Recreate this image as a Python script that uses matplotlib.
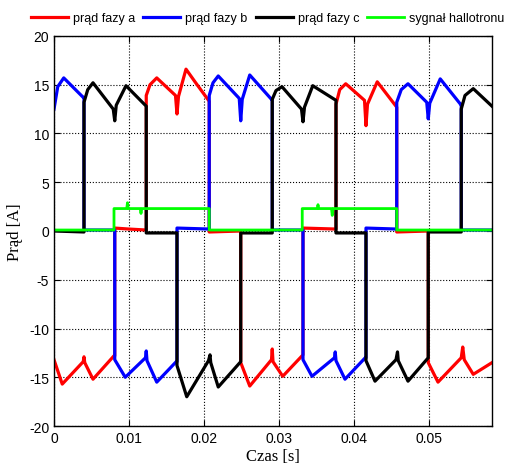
import matplotlib
matplotlib.use('Agg')
import matplotlib.pyplot as plt

# phase currents (time in s, current in A)
t_a = [0.0000, 0.0011, 0.0039, 0.0040, 0.0041, 0.0052, 0.0080, 0.0081, 0.0081, 0.0100,
       0.0123, 0.0123, 0.0128, 0.0137, 0.0162, 0.0164, 0.0166, 0.0176, 0.0188, 0.0207,
       0.0207, 0.0249, 0.0249, 0.0261, 0.0290, 0.0291, 0.0292, 0.0305, 0.0332, 0.0332,
       0.0376, 0.0376, 0.0381, 0.0389, 0.0414, 0.0416, 0.0418, 0.0431, 0.0457, 0.0457,
       0.0499, 0.0499, 0.0512, 0.0543, 0.0545, 0.0547, 0.0559, 0.0584]
i_a = [-13.2, -15.7, -13.4, -12.9, -13.5, -15.2, -12.8, -12.8, 0.3, 0.2,
       0.1, 13.9, 15.0, 15.7, 13.9, 12.0, 13.8, 16.6, 15.3, 13.3,
       -0.1, 0.0, -13.5, -15.9, -13.2, -12.1, -13.4, -14.9, -12.7, 0.3,
       0.2, 13.0, 14.5, 15.1, 13.4, 10.8, 13.0, 15.3, 12.7, -0.1,
       0.0, -13.5, -15.5, -13.0, -11.9, -13.2, -14.7, -13.5]

t_b = [0.0000, 0.0005, 0.0013, 0.0039, 0.0040, 0.0040, 0.0081, 0.0081, 0.0095, 0.0122,
       0.0123, 0.0124, 0.0137, 0.0163, 0.0164, 0.0164, 0.0207, 0.0207, 0.0212, 0.0219,
       0.0247, 0.0249, 0.0251, 0.0261, 0.0290, 0.0291, 0.0291, 0.0332, 0.0332, 0.0344,
       0.0374, 0.0375, 0.0376, 0.0388, 0.0415, 0.0416, 0.0416, 0.0457, 0.0457, 0.0463,
       0.0472, 0.0497, 0.0499, 0.0501, 0.0515, 0.0542, 0.0543, 0.0543, 0.0584]
i_b = [12.5, 14.8, 15.7, 13.7, 13.7, 0.1, 0.1, -13.2, -15.0, -13.0,
       -12.3, -13.3, -15.5, -13.4, -13.4, 0.3, 0.2, 13.9, 15.2, 15.9,
       13.6, 11.3, 13.5, 16.0, 13.5, 13.5, 0.1, 0.1, -13.2, -14.9,
       -13.0, -12.4, -13.3, -15.2, -13.0, -13.0, 0.3, 0.2, 13.2, 14.5,
       15.1, 13.2, 11.5, 13.1, 15.6, 13.0, 13.0, 0.1, 0.1]

t_c = [0.0000, 0.0040, 0.0040, 0.0045, 0.0052, 0.0079, 0.0081, 0.0083, 0.0096, 0.0123,
       0.0123, 0.0164, 0.0164, 0.0177, 0.0206, 0.0208, 0.0209, 0.0219, 0.0249, 0.0249,
       0.0291, 0.0291, 0.0296, 0.0304, 0.0330, 0.0332, 0.0334, 0.0345, 0.0376, 0.0376,
       0.0416, 0.0416, 0.0428, 0.0456, 0.0458, 0.0459, 0.0472, 0.0499, 0.0499, 0.0543,
       0.0543, 0.0548, 0.0559, 0.0584]
i_c = [0.0, -0.1, 13.2, 14.5, 15.2, 12.5, 11.3, 12.9, 14.9, 12.8,
       -0.2, -0.2, -13.8, -17.0, -13.3, -12.7, -13.5, -16.0, -13.4, -0.2,
       -0.2, 13.5, 14.4, 14.8, 12.5, 11.2, 12.7, 14.9, 13.4, -0.2,
       -0.2, -13.3, -15.4, -13.2, -12.4, -13.3, -15.4, -13.0, -0.1, -0.1,
       12.5, 13.9, 14.6, 12.8]

# hall sensor signal
t_h = [0.0000, 0.0080, 0.0080, 0.0097, 0.0098, 0.0099, 0.0115, 0.0116, 0.0117, 0.0207,
       0.0207, 0.0331, 0.0331, 0.0351, 0.0352, 0.0353, 0.0370, 0.0371, 0.0372, 0.0457,
       0.0457, 0.0584]
i_h = [0.1, 0.1, 2.3, 2.3, 2.9, 2.3, 2.3, 1.8, 2.3, 2.3,
       0.1, 0.1, 2.3, 2.3, 2.7, 2.3, 2.3, 1.6, 2.3, 2.3,
       0.1, 0.1]

labels = ['prąd fazy a', 'prąd fazy b', 'prąd fazy c', 'sygnał hallotronu']
x_ticks = [0, 0.01, 0.02, 0.03, 0.04, 0.05]
x_ticklabels = ['0', '0.01', '0.02', '0.03', '0.04', '0.05']
y_ticks = [-20, -15, -10, -5, 0, 5, 10, 15, 20]

plt.rcParams['font.family'] = ['Liberation Sans', 'DejaVu Sans']
plt.rcParams['axes.unicode_minus'] = False

fig = plt.figure(figsize=(5.07, 4.64), dpi=100)
ax = fig.add_axes((0.1065, 0.0797, 0.8639, 0.8406))

ax.plot(t_a, i_a, color='#ff0000', linewidth=2.3, label=labels[0])
ax.plot(t_b, i_b, color='#0000ff', linewidth=2.3, label=labels[1])
ax.plot(t_c, i_c, color='black', linewidth=2.3, label=labels[2])
ax.plot(t_h, i_h, color='#00ff00', linewidth=2.0, label=labels[3])

ax.set_xlim(0, 0.0584)
ax.set_ylim(-20, 20)
ax.set_xticks(x_ticks)
ax.set_xticklabels(x_ticklabels)
ax.set_yticks(y_ticks)
ax.tick_params(direction='in', top=True, right=True, labelsize=10, length=4)
ax.grid(True, color='black', linestyle=':', linewidth=0.8)
for sp in ax.spines.values():
    sp.set_linewidth(1.0)

ax.set_xlabel('Czas [s]', family='Liberation Serif', fontsize=12, labelpad=2)
ax.set_ylabel('Prąd [A]', family='Liberation Serif', fontsize=12, labelpad=4)

# legend sits above the axes, one row, no frame
fig.legend(loc='center', bbox_to_anchor=(0.528, 0.959), ncol=4, frameon=False,
           fontsize=9, handlelength=2.95, handletextpad=0.4, columnspacing=0.65)

fig.savefig('out.png', dpi=100)
